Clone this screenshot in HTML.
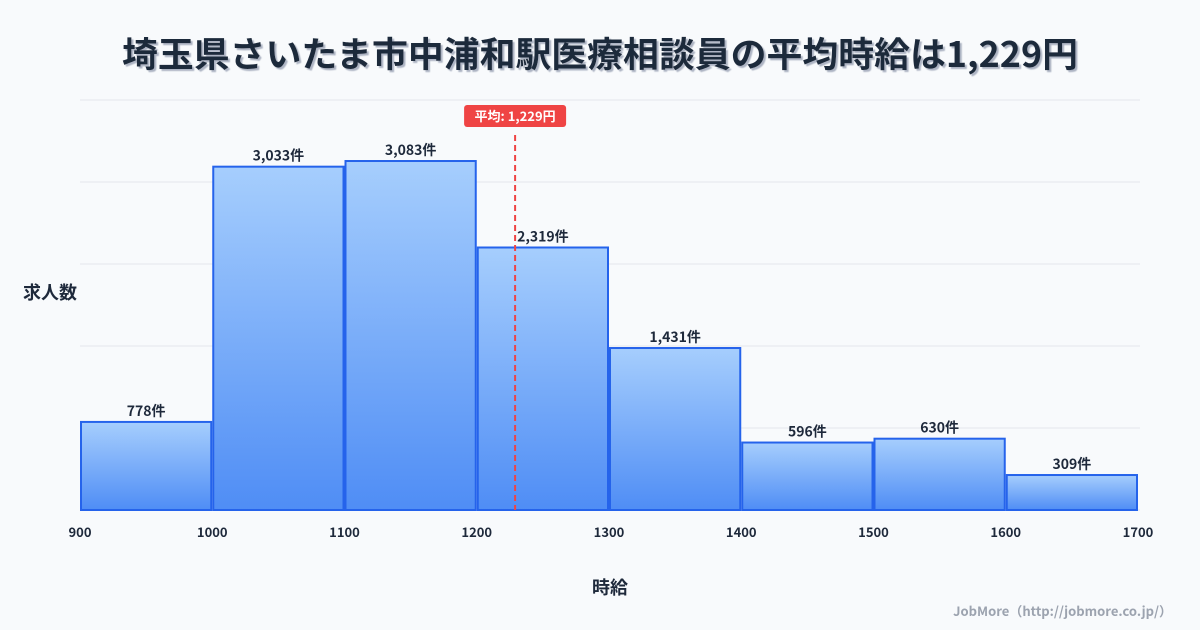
<!DOCTYPE html>
<html><head><meta charset="utf-8"><style>
body{margin:0;background:#f8fafc;}
svg{display:block;font-family:"Noto Sans CJK JP","Liberation Sans",sans-serif;}
</style></head><body>
<svg id="c" width="1200" height="630" viewBox="0 0 1200 630">
<defs>
<linearGradient id="g" x1="0" y1="0" x2="0" y2="1"><stop offset="0" stop-color="#a6cefd"/><stop offset="1" stop-color="#4f8df5"/></linearGradient>
<filter id="sh"><feDropShadow dx="2" dy="2" stdDeviation="0.5" flood-color="#9aa3b5" flood-opacity="0.8"/></filter>
</defs>
<rect width="1200" height="630" fill="#f8fafc"/>
<text x="600" y="67" text-anchor="middle" font-size="35" font-weight="bold" fill="#1e293b" filter="url(#sh)" textLength="956" lengthAdjust="spacingAndGlyphs">埼玉県さいたま市中浦和駅医療相談員の平均時給は1,229円</text>
<g id="grid"></g><g id="bars"></g><g id="xt"></g>
<text x="50" y="299" text-anchor="middle" font-size="18" font-weight="bold" fill="#1e293b">求人数</text>
<text x="610" y="594" text-anchor="middle" font-size="18" font-weight="bold" fill="#1e293b">時給</text>
<text x="1172" y="616" text-anchor="end" font-size="13" font-weight="bold" fill="#9ca3af">JobMore（http://jobmore.co.jp/）</text>
</svg>
<script>
const binStarts=[900,1000,1100,1200,1300,1400,1500,1600];
const counts=[778,3033,3083,2319,1431,596,630,309];
const xTicks=[900,1000,1100,1200,1300,1400,1500,1600,1700];
const meanValue=1229;
const meanLabel="平均: 1,229円";
const NS="http://www.w3.org/2000/svg";
const x0=80,x1=1138,y0=510,y1=100,xmin=900,xmax=1700,ymax=3622;
const X=v=>x0+(v-xmin)/(xmax-xmin)*(x1-x0);
const Y=v=>y0-v/ymax*(y0-y1);
function mk(t,a,p){const e=document.createElementNS(NS,t);for(const k in a)e.setAttribute(k,a[k]);p.appendChild(e);return e;}
const grid=document.getElementById('grid'),bars=document.getElementById('bars'),xt=document.getElementById('xt');
for(let i=0;i<=5;i++){const y=Y(ymax*i/5);const l=mk('line',{x1:x0,x2:1140,y1:y,y2:y,stroke:'#e5e7eb','stroke-width':1},grid);

}
binStarts.forEach((b,i)=>{const xa=X(b)+1,xb=X(b+100)-1,yt=Y(counts[i]);
const r=mk('rect',{x:xa,y:yt,width:xb-xa,height:y0-yt,fill:'url(#g)',stroke:'#2563eb','stroke-width':2},bars);


const t=mk('text',{x:(xa+xb)/2,y:yt-6,'text-anchor':'middle','font-size':14,'font-weight':'bold',fill:'#1e293b'},bars);
t.textContent=counts[i].toLocaleString('en-US')+'件';

});
xTicks.forEach(v=>{const t=mk('text',{x:X(v),y:537,'text-anchor':'middle','font-size':13,'font-weight':'bold',fill:'#1e293b'},xt);
t.textContent=v;

});
const mx=X(meanValue);
const ml=mk('line',{x1:mx,x2:mx,y1:135,y2:y0,stroke:'#ef4444','stroke-width':2,'stroke-dasharray':'6,4'},xt);


const mb=mk('rect',{x:mx-51,y:105,width:102,height:22,rx:3,fill:'#ef4444'},xt);


const mt=mk('text',{x:mx,y:121,'text-anchor':'middle','font-size':13,'font-weight':'bold',fill:'#fff'},xt);
mt.textContent=meanLabel;


</script>
</body></html>
